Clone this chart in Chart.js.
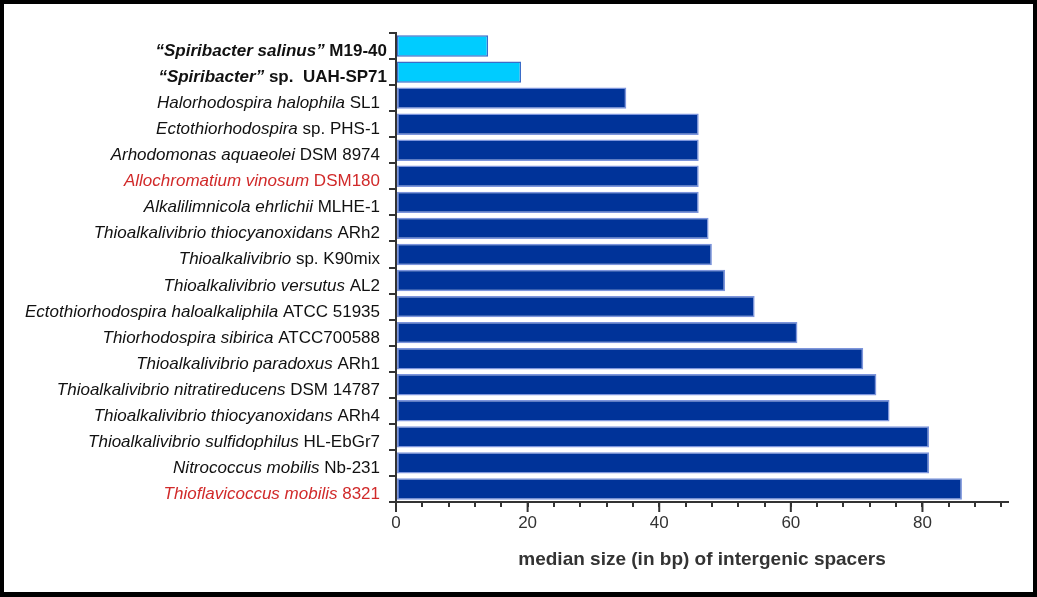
<!DOCTYPE html>
<html>
<head>
<meta charset="utf-8">
<script src="https://cdn.jsdelivr.net/npm/chart.js@4/dist/chart.umd.min.js"></script>
<style>
html, body { margin: 0; padding: 0; background: #000; width: 1037px; height: 597px; overflow: hidden; }
#frame { position: absolute; left: 4px; top: 4px; width: 1029px; height: 588px; background: #fff; }
canvas { display: block; }
</style>
</head>
<body>
<div id="frame"><canvas id="spacerChart" width="1029" height="588"></canvas></div>
<script>
// italic part of each label (species), then the upright part (strain)
const speciesNames = [
	'\u201CSpiribacter salinus\u201D', '\u201CSpiribacter\u201D', 'Halorhodospira halophila', 'Ectothiorhodospira',
	'Arhodomonas aquaeolei', 'Allochromatium vinosum', 'Alkalilimnicola ehrlichii', 'Thioalkalivibrio thiocyanoxidans',
	'Thioalkalivibrio', 'Thioalkalivibrio versutus', 'Ectothiorhodospira haloalkaliphila', 'Thiorhodospira sibirica',
	'Thioalkalivibrio paradoxus', 'Thioalkalivibrio nitratireducens', 'Thioalkalivibrio thiocyanoxidans',
	'Thioalkalivibrio sulfidophilus', 'Nitrococcus mobilis', 'Thioflavicoccus mobilis'
];
const strainNames = [
	' M19-40', ' sp.  UAH-SP71', ' SL1', ' sp. PHS-1', ' DSM 8974', ' DSM180', ' MLHE-1', ' ARh2', ' sp. K90mix',
	' AL2', ' ATCC 51935', ' ATCC700588', ' ARh1', ' DSM 14787', ' ARh4', ' HL-EbGr7', ' Nb-231', ' 8321'
];
const medianSizes = [14, 19, 35, 46, 46, 46, 46, 47.5, 48, 50, 54.5, 61, 71, 73, 75, 81, 81, 86];
const highlightRows = [0, 1];   // Spiribacter genomes, bold labels and light bars
const redRows = [5, 17];

const fontFamily = '"Liberation Sans", Arial, sans-serif';
Chart.defaults.font.family = fontFamily;

const labelPlugin = {
	id: 'mixedLabels',
	afterDraw(chart) {
		const ctx = chart.ctx;
		const yScale = chart.scales.y;
		ctx.save();
		ctx.textBaseline = 'alphabetic';
		speciesNames.forEach((sp, i) => {
			const bold = highlightRows.includes(i) ? 'bold ' : '';
			const italicFont = 'italic ' + bold + '17px ' + fontFamily;
			const plainFont = bold + '17px ' + fontFamily;
			const y = yScale.getPixelForValue(i) + 10;
			const right = highlightRows.includes(i) ? 383 : 376;
			ctx.fillStyle = redRows.includes(i) ? '#d12a2a' : '#111';
			ctx.font = plainFont;
			const w2 = ctx.measureText(strainNames[i]).width;
			ctx.textAlign = 'left';
			ctx.fillText(strainNames[i], right - w2, y);
			ctx.font = italicFont;
			ctx.textAlign = 'right';
			ctx.fillText(sp, right - w2, y);
		});
		// longer marks at the labelled x ticks
		const xScale = chart.scales.x;
		ctx.strokeStyle = '#333';
		ctx.lineWidth = 2;
		xScale.ticks.forEach(t => {
			if (t.value % 20 === 0) {
				const x = xScale.getPixelForValue(t.value);
				ctx.beginPath();
				ctx.moveTo(x, xScale.top);
				ctx.lineTo(x, xScale.top + 10);
				ctx.stroke();
			}
		});
		ctx.restore();
	}
};

new Chart(document.getElementById('spacerChart'), {
	type: 'bar',
	data: {
		labels: speciesNames.map((s, i) => s + strainNames[i]),
		datasets: [{
			data: medianSizes,
			backgroundColor: medianSizes.map((v, i) => highlightRows.includes(i) ? '#00ccff' : '#003399'),
			borderColor: medianSizes.map((v, i) => highlightRows.includes(i) ? '#3a6cc8' : '#7d95dc'),
			borderWidth: 1.5,
			borderSkipped: false,
			barPercentage: 0.82,
			categoryPercentage: 1.0
		}]
	},
	options: {
		indexAxis: 'y',
		responsive: false,
		animation: false,
		layout: { padding: { top: 29, right: 25, left: 0, bottom: 0 } },
		plugins: {
			legend: { display: false },
			tooltip: { enabled: false }
		},
		scales: {
			x: {
				min: 0,
				max: 93,
				z: 1,
				afterFit: s => { s.height = 90; },
				grid: { drawOnChartArea: false, tickLength: 5, color: '#333', lineWidth: 2 },
				border: { color: '#333', width: 2 },
				ticks: {
					stepSize: 4,
					includeBounds: false,
					autoSkip: false,
					maxRotation: 0,
					padding: 6,
					color: '#333',
					font: { size: 17 },
					callback: v => (v % 20 === 0 ? v : '')
				},
				title: {
					display: true,
					text: 'median size (in bp) of intergenic spacers',
					color: '#333',
					font: { size: 19, weight: 'bold' },
					padding: { top: 0, bottom: 21 }
				}
			},
			y: {
				z: 1,
				afterFit: s => { s.width = 392; },
				grid: { offset: true, drawOnChartArea: false, tickLength: 7, color: '#333', lineWidth: 2 },
				border: { color: '#333', width: 2 },
				ticks: { display: false }
			}
		}
	},
	plugins: [labelPlugin]
});
</script>
</body>
</html>
